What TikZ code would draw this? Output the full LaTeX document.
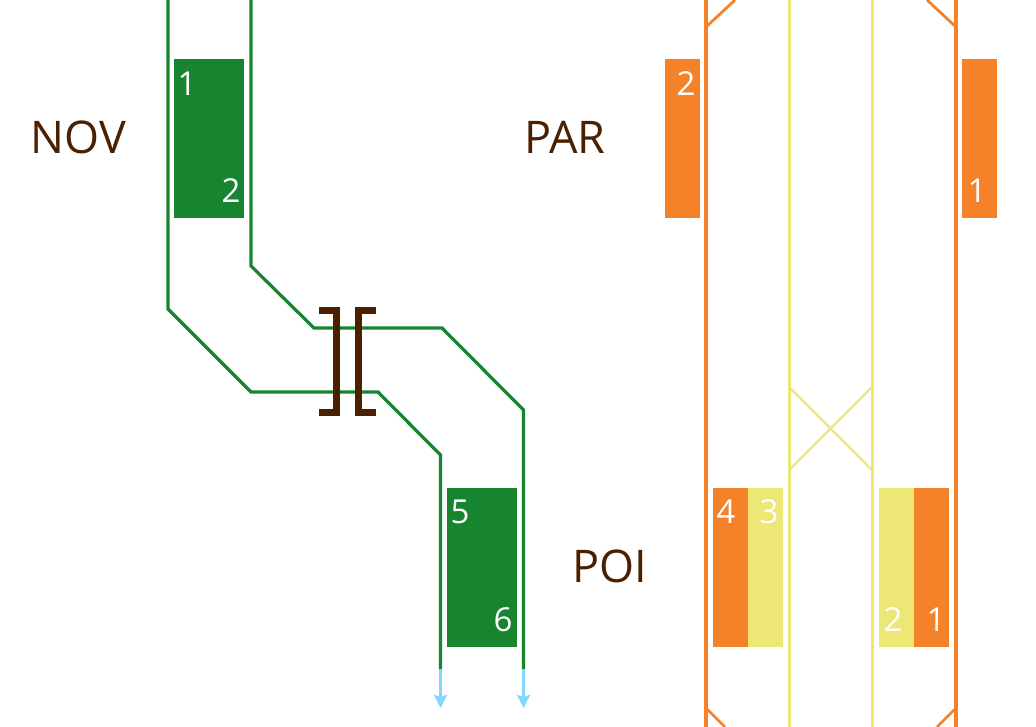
\documentclass[tikz,border=0pt]{standalone}
\usepackage{fontspec}
\setmainfont{Open Sans}
\usetikzlibrary{arrows.meta}
\definecolor{novgreen}{HTML}{17852F}
\definecolor{parorange}{HTML}{F58229}
\definecolor{poiyellow}{HTML}{EDE875}
\definecolor{flowblue}{HTML}{80D8FF}
\definecolor{labelbrown}{HTML}{4A2000}

\begin{document}
\begin{tikzpicture}[x=1pt,y=-1pt,
  every node/.style={inner sep=0pt,outer sep=0pt},
  wide/.style={minimum width=70pt,minimum height=159pt},
  narrow/.style={minimum width=35pt,minimum height=159pt},
  greenbox/.style={wide,fill=novgreen},
  orangebox/.style={narrow,fill=parorange},
  yellowbox/.style={narrow,fill=poiyellow},
  num/.style={text=white,font=\fontsize{33}{33}\selectfont},
  site/.style={text=labelbrown,font=\fontsize{45}{45}\selectfont},
  greenline/.style={draw=novgreen,line width=3.2pt},
  orangeline/.style={draw=parorange,line width=3.4pt},
  yellowline/.style={draw=poiyellow,line width=3.4pt},
  thinyellow/.style={draw=poiyellow,line width=2.4pt},
  thinorange/.style={draw=parorange,line width=2.8pt},
  bracket/.style={draw=labelbrown,line width=7.4pt,miter limit=10},
  flow/.style={draw=flowblue,line width=3.4pt,-{Stealth[length=13pt,width=13pt,inset=2pt]}}]
\useasboundingbox (0,0) rectangle (1036,727);

% tracks on the right
\coordinate (ot1) at (706,0);
\coordinate (ob1) at (706,727);
\coordinate (ot2) at (956,0);
\coordinate (ob2) at (956,727);
\coordinate (yt1) at (789.5,0);
\coordinate (yb1) at (789.5,727);
\coordinate (yt2) at (872.5,0);
\coordinate (yb2) at (872.5,727);
\draw[yellowline] (yt1) -- (yb1);
\draw[yellowline] (yt2) -- (yb2);
\draw[orangeline] (ot1) -- (ob1);
\draw[orangeline] (ot2) -- (ob2);

% short diagonals
\coordinate (d1a) at (706,27);
\coordinate (d1b) at (735,0);
\coordinate (d2a) at (956,27);
\coordinate (d2b) at (927,0);
\coordinate (d3a) at (706,708);
\coordinate (d3b) at (725,727);
\coordinate (d4a) at (956,708);
\coordinate (d4b) at (937,727);
\draw[thinorange] (d1a) -- (d1b);
\draw[thinorange] (d2a) -- (d2b);
\draw[thinorange] (d3a) -- (d3b);
\draw[thinorange] (d4a) -- (d4b);

% crossover
\coordinate (x1) at (789,387);
\coordinate (x2) at (872,470);
\coordinate (x3) at (872,387);
\coordinate (x4) at (789,470);
\draw[thinyellow] (x1) -- (x2);
\draw[thinyellow] (x3) -- (x4);

% green tracks
\coordinate (ga0) at (168,0);
\coordinate (ga1) at (168,309);
\coordinate (ga2) at (251,392);
\coordinate (ga3) at (378,392);
\coordinate (ga4) at (440.5,455);
\coordinate (ga5) at (440.5,669);
\coordinate (ga6) at (440.5,708);
\coordinate (gb0) at (251,0);
\coordinate (gb1) at (251,266);
\coordinate (gb2) at (314,328);
\coordinate (gb3) at (442,328);
\coordinate (gb4) at (523.5,410);
\coordinate (gb5) at (523.5,669);
\coordinate (gb6) at (523.5,708);
\draw[greenline] (ga0) -- (ga1) -- (ga2) -- (ga3) -- (ga4) -- (ga5);
\draw[greenline] (gb0) -- (gb1) -- (gb2) -- (gb3) -- (gb4) -- (gb5);
\draw[flow] (ga5) -- (ga6);
\draw[flow] (gb5) -- (gb6);

% brackets
\coordinate (bl1) at (319,310.5);
\coordinate (bl2) at (336.5,310.5);
\coordinate (bl3) at (336.5,412.5);
\coordinate (bl4) at (319,412.5);
\coordinate (br1) at (376,310.5);
\coordinate (br2) at (358.5,310.5);
\coordinate (br3) at (358.5,412.5);
\coordinate (br4) at (376,412.5);
\draw[bracket] (bl1) -- (bl2) -- (bl3) -- (bl4);
\draw[bracket] (br1) -- (br2) -- (br3) -- (br4);

% boxes
\node[greenbox] (nov) at (209,138.5) {};
\node[greenbox] (poi) at (482,567.5) {};
\node[orangebox] (parl) at (682.5,138.5) {};
\node[orangebox] (parr) at (979.5,138.5) {};
\node[orangebox] (poio4) at (730.5,567.5) {};
\node[yellowbox] (poiy3) at (765.5,567.5) {};
\node[yellowbox] (poiy2) at (896.5,567.5) {};
\node[orangebox] (poio1) at (931.5,567.5) {};

% numbers
\node[num] (n1) at (187,84) {1};
\node[num] (n2) at (231,191) {2};
\node[num] (n5) at (460,512) {5};
\node[num] (n6) at (503,620) {6};
\node[num] (p2) at (686,84) {2};
\node[num] (p1) at (977,191) {1};
\node[num] (q4) at (726,512) {4};
\node[num] (q3) at (769,512) {3};
\node[num] (q2) at (893,620) {2};
\node[num] (q1) at (936,620) {1};

% sites
\node[site] (novl) at (78.5,137) {NOV};
\node[site] (parlab) at (565,137) {PAR};
\node[site] (poil) at (610,566) {POI};
\end{tikzpicture}
\end{document}
